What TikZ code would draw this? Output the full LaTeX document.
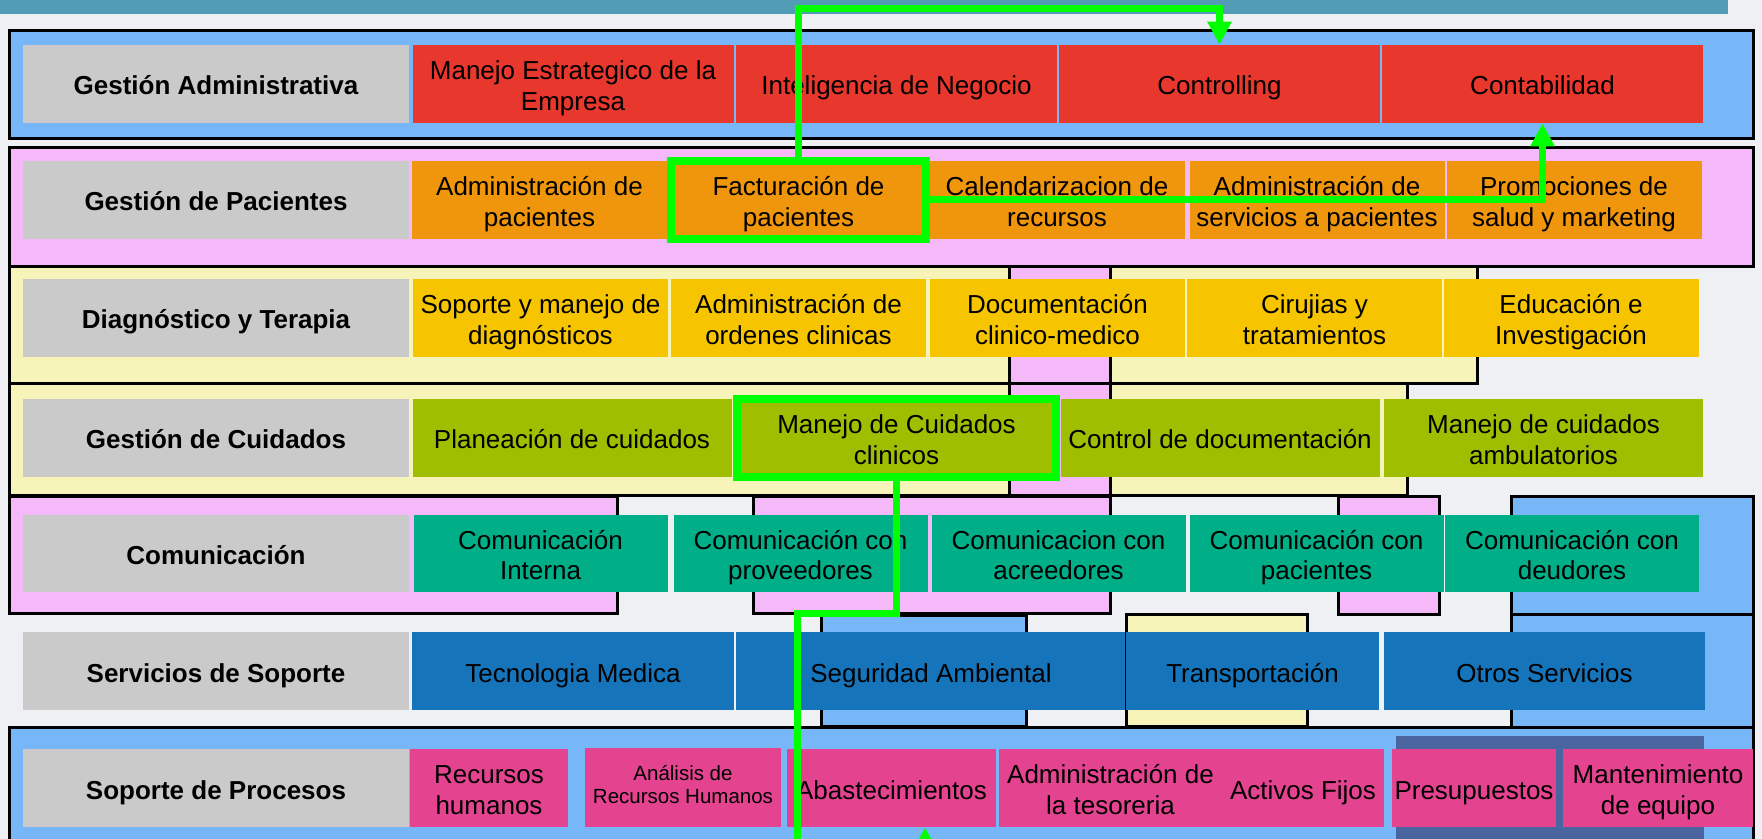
\documentclass[tikz,border=0pt]{standalone}
\usepackage{fontspec}
\setmainfont{Liberation Sans}
\usetikzlibrary{arrows.meta}

\definecolor{fond}{HTML}{EEF0F4}
\definecolor{bandeau}{HTML}{529DB5}
\definecolor{bleuclair}{HTML}{77B7F7}
\definecolor{rose}{HTML}{F5B8F8}
\definecolor{jaune}{HTML}{F6F4B8}
\definecolor{gris}{HTML}{CACACA}
\definecolor{rouge}{HTML}{E8372C}
\definecolor{orange}{HTML}{F0960C}
\definecolor{ambre}{HTML}{F6C500}
\definecolor{olive}{HTML}{A0BE00}
\definecolor{turquoise}{HTML}{00AE88}
\definecolor{bleu}{HTML}{1674BB}
\definecolor{magenta}{HTML}{E4448F}
\definecolor{bleufonce}{HTML}{4A64A0}
\definecolor{vert}{HTML}{00FF00}

% Hauteur de ligne fixe pour centrer les textes comme dans l'original
\newcommand{\cale}{\rule[-3pt]{0pt}{17pt}}
\newcommand{\calebis}{\rule[-4pt]{0pt}{34.5pt}}

\begin{document}
\begin{tikzpicture}[x=0.5pt,y=-0.5pt,
    cadre/.style={draw=black, line width=1.5pt},
    boite/.style={inner sep=0pt, align=center, minimum height=39pt, font=\fontsize{13}{15.5}\selectfont,
        execute at begin node=\cale, execute at end node=\cale},
    deux/.style={execute at begin node={}, execute at end node=\calebis},
    etiq/.style={boite, fill=gris, minimum width=193pt, font=\fontsize{13}{15.5}\selectfont\bfseries},
    large/.style={minimum width=160.5pt},
    moyen/.style={minimum width=127.5pt},
    cible/.style={draw=vert, line width=4pt},
    fleche/.style={draw=vert, line width=3.5pt, -{Triangle[length=11.5pt,width=11.5pt]}}]
    \useasboundingbox (0,0) rectangle (1762,839);
    \clip (0,0) rectangle (1762,839);

    % Fond et bandeau du haut
    \fill[fond] (0,0) rectangle (1762,839);
    \fill[bandeau] (0,0) rectangle (1728,14);

    % Cadres de fond des rangées
    \filldraw[fill=bleuclair, cadre] (9,31) rectangle (1753,139);
    \filldraw[fill=rose, cadre] (9,148) rectangle (1753,267);
    \fill[jaune] (9,267) rectangle (1477,384);
    \fill[jaune] (9,384) rectangle (1407,496);
    \fill[rose] (1009,267) rectangle (1110,497);
    \draw[cadre] (9,267) rectangle (1477,384);
    \draw[cadre] (9,384) rectangle (1407,496);
    \draw[cadre] (1009,267) rectangle (1110,497);
    \filldraw[fill=rose, cadre] (9,497) rectangle (617,613);
    \filldraw[fill=rose, cadre] (753,497) rectangle (1110,613);
    \filldraw[fill=rose, cadre] (1338,497) rectangle (1439,614);
    \filldraw[fill=bleuclair, cadre] (1511,497) rectangle (1753,614);
    \filldraw[fill=bleuclair, cadre] (821,615) rectangle (1026,726);
    \filldraw[fill=jaune, cadre] (1126,614) rectangle (1307,726);
    \filldraw[fill=bleuclair, cadre] (1511,614) rectangle (1753,727);
    \filldraw[fill=bleuclair, cadre] (9,727) rectangle (1753,860);
    \fill[bleufonce] (1396,736) rectangle (1704,860);

    % Gestión Administrativa
    \node[etiq] (ga) at (216,84) {Gestión Administrativa};
    \node[boite, deux, large, fill=rouge] (mee) at (573,84) {Manejo Estrategico de la\\Empresa};
    \node[boite, large, fill=rouge] (ineg) at (896.5,84) {Inteligencia de Negocio};
    \node[boite, large, fill=rouge] (ctrl) at (1219.5,84) {Controlling};
    \node[boite, large, fill=rouge] (conta) at (1542.5,84) {Contabilidad};

    % Gestión de Pacientes
    \node[etiq] (gp) at (216,200) {Gestión de Pacientes};
    \node[boite, deux, moyen, fill=orange] (adm) at (539.5,200) {Administración de\\pacientes};
    \node[boite, deux, moyen, fill=orange, cible] (fact) at (798.5,200) {Facturación de\\pacientes};
    \node[boite, deux, moyen, fill=orange] (cal) at (1057,200) {Calendarizacion de\\recursos};
    \node[boite, deux, moyen, fill=orange] (serv) at (1317,200) {Administración de\\servicios a pacientes};
    \node[boite, deux, moyen, fill=orange] (promo) at (1574,200) {Promociones de\\salud y marketing};

    % Diagnóstico y Terapia
    \node[etiq] (gdt) at (216,318) {Diagnóstico y Terapia};
    \node[boite, deux, moyen, fill=ambre] (sop) at (540.5,318) {Soporte y manejo de\\diagnósticos};
    \node[boite, deux, moyen, fill=ambre] (ord) at (798.5,318) {Administración de\\ordenes clinicas};
    \node[boite, deux, moyen, fill=ambre] (doc) at (1057.5,318) {Documentación\\clinico-medico};
    \node[boite, deux, moyen, fill=ambre] (cir) at (1314.5,318) {Cirujias y\\tratamientos};
    \node[boite, deux, moyen, fill=ambre] (edu) at (1571,318) {Educación e\\Investigación};

    % Gestión de Cuidados
    \node[etiq] (gc) at (216,438) {Gestión de Cuidados};
    \node[boite, minimum width=159.5pt, fill=olive] (plan) at (572,438) {Planeación de cuidados};
    \node[boite, deux, minimum width=159.5pt, fill=olive, cible] (cuid) at (896.5,438) {Manejo de Cuidados\\clinicos};
    \node[boite, minimum width=159.5pt, fill=olive] (ctl) at (1220,438) {Control de documentación};
    \node[boite, deux, minimum width=159.5pt, fill=olive] (amb) at (1543.5,438) {Manejo de cuidados\\ambulatorios};

    % Comunicación
    \node[etiq, minimum height=38.5pt] (com) at (216,553.5) {Comunicación};
    \node[boite, deux, minimum width=127pt, minimum height=38.5pt, fill=turquoise] (cint) at (540.5,553.5) {Comunicación\\Interna};
    \node[boite, deux, minimum width=127pt, minimum height=38.5pt, fill=turquoise] (cprov) at (800.5,553.5) {Comunicación con\\proveedores};
    \node[boite, deux, minimum width=127pt, minimum height=38.5pt, fill=turquoise] (cacr) at (1058.5,553.5) {Comunicacion con\\acreedores};
    \node[boite, deux, minimum width=127pt, minimum height=38.5pt, fill=turquoise] (cpac) at (1316.5,553.5) {Comunicación con\\pacientes};
    \node[boite, deux, minimum width=127pt, minimum height=38.5pt, fill=turquoise] (cdeu) at (1572,553.5) {Comunicación con\\deudores};

    % Servicios de Soporte
    \node[etiq] (ss) at (216,671) {Servicios de Soporte};
    \node[boite, minimum width=161pt, fill=bleu] (tec) at (573,671) {Tecnologia Medica};
    \node[boite, minimum width=195pt, fill=bleu] (seg) at (931,671) {Seguridad Ambiental};
    \node[boite, minimum width=126.5pt, fill=bleu] (tra) at (1252.5,671) {Transportación};
    \node[boite, large, fill=bleu] (otr) at (1544.5,671) {Otros Servicios};
    \draw[line width=0.5pt] (tra.north west) -- (tra.south west);

    % Soporte de Procesos
    \node[etiq] (sp) at (216,788) {Soporte de Procesos};
    \node[boite, deux, minimum width=79pt, fill=magenta] (rh) at (489,788) {Recursos\\humanos};
    \node[boite, minimum width=98pt, minimum height=39.5pt, fill=magenta, font=\fontsize{10.25}{11.5}\selectfont,
        execute at begin node={}, execute at end node={}] (arh) at (683,787.5) {Análisis de\\Recursos Humanos};
    \node[boite, minimum width=104.5pt, fill=magenta] (abast) at (891.5,788) {Abastecimientos};
    \node[boite, deux, minimum width=111.5pt, fill=magenta] (tes) at (1110.5,788) {Administración de\\la tesoreria};
    \node[boite, minimum width=81pt, fill=magenta] (act) at (1303,788) {Activos Fijos};
    \node[boite, minimum width=82pt, fill=magenta] (pre) at (1474,788) {Presupuestos};
    \node[boite, deux, minimum width=95pt, fill=magenta] (mant) at (1658,788) {Mantenimiento\\de equipo};

    % Flux en vert
    \coordinate (haut) at (1000,9);
    \coordinate (coude) at (797,613);
    \coordinate (bas) at (797,870);
    \draw[fleche] (fact.north) |- (haut) -| (ctrl.north);
    \draw[fleche] (fact.east) -| (conta.south);
    \draw[fleche] (cuid.south) |- (coude) -- (bas) -| ([xshift=16.75pt]abast.south);
\end{tikzpicture}
\end{document}
